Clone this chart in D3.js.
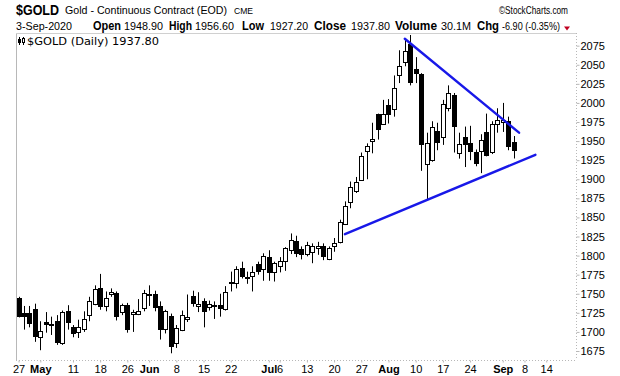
<!DOCTYPE html>
<html>
<head>
<meta charset="utf-8">
<script src="https://cdn.jsdelivr.net/npm/d3@7"></script>
<style>
  body { margin: 0; background: #fff; }
  svg { display: block; }
  text { font-family: "Liberation Sans", Arial, sans-serif; fill: #000; }
</style>
</head>
<body>
<div id="chart"></div>
<script>
// trading days shown (holidays skipped)
const dates = [
  "2020-04-27","2020-04-28","2020-04-29","2020-04-30","2020-05-01",
  "2020-05-04","2020-05-05","2020-05-06","2020-05-07","2020-05-08",
  "2020-05-11","2020-05-12","2020-05-13","2020-05-14","2020-05-15",
  "2020-05-18","2020-05-19","2020-05-20","2020-05-21","2020-05-22",
  "2020-05-26","2020-05-27","2020-05-28","2020-05-29",
  "2020-06-01","2020-06-02","2020-06-03","2020-06-04","2020-06-05",
  "2020-06-08","2020-06-09","2020-06-10","2020-06-11","2020-06-12",
  "2020-06-15","2020-06-16","2020-06-17","2020-06-18","2020-06-19",
  "2020-06-22","2020-06-23","2020-06-24","2020-06-25","2020-06-26",
  "2020-06-29","2020-06-30","2020-07-01","2020-07-02",
  "2020-07-06","2020-07-07","2020-07-08","2020-07-09","2020-07-10",
  "2020-07-13","2020-07-14","2020-07-15","2020-07-16","2020-07-17",
  "2020-07-20","2020-07-21","2020-07-22","2020-07-23","2020-07-24",
  "2020-07-27","2020-07-28","2020-07-29","2020-07-30","2020-07-31",
  "2020-08-03","2020-08-04","2020-08-05","2020-08-06","2020-08-07",
  "2020-08-10","2020-08-11","2020-08-12","2020-08-13","2020-08-14",
  "2020-08-17","2020-08-18","2020-08-19","2020-08-20","2020-08-21",
  "2020-08-24","2020-08-25","2020-08-26","2020-08-27","2020-08-28",
  "2020-08-31","2020-09-01","2020-09-02","2020-09-03"
];
// empty days to the right of the last candle
const futureDates = [
  "2020-09-04","2020-09-08","2020-09-09","2020-09-10","2020-09-11",
  "2020-09-14","2020-09-15","2020-09-16","2020-09-17","2020-09-18","2020-09-21"
];

const opens = [
  1745,1725,1725,1730,1693, 1713,1711,1714,1685,1727, 1706,1699,1704,1723,1737,
  1757,1734,1749,1751,1726, 1735,1723,1724,1732, 1749,1750,1734,1703,1721,
  1686,1703,1717,1747,1734, 1740,1732,1734.5,1735,1730, 1765,1764,1784,1771,1774,
  1789,1783,1798,1778, 1786,1793,1807,1819,1808, 1802,1804,1810,1812,1795,
  1812,1818,1842,1871,1884, 1900,1936,1950,1985,1972, 1997,1993,2036,2054,2077,
  2044,2038,1921,1926,1963, 1955,1993,2010,1934,1955, 1948,1936,1937,1962,1936,
  1973,1975,1976,1948.9
];
const highs = [
  1746,1734,1734,1737,1714, 1726,1720,1722,1728,1735, 1709,1716,1727,1746,1761,
  1776,1753,1757,1753,1737, 1738,1729,1743,1755, 1761,1754,1740,1729,1724,
  1709,1728,1749,1754,1752, 1744,1741,1740,1750,1760, 1779,1786,1792,1779,1786,
  1792,1803,1807,1792, 1798,1811,1829,1826,1812, 1818,1816,1818,1816,1812,
  1823,1847,1871,1897,1903, 1935,1947,1974,1986,2004, 2005,2036,2069,2083,2089,
  2060,2039,1961,1976,1974, 2004,2023,2013,1961,1969, 1970,1939,1959,1986,1976,
  1993,2000,1982,1956.6
];
const lows = [
  1719,1703,1706,1687,1676, 1699,1696,1683,1683,1703, 1693,1692,1700,1714,1735,
  1729,1727,1746,1715,1722, 1699,1700,1722,1727, 1734,1727,1690,1698,1672,
  1679,1701,1713,1733,1726, 1706,1728,1717,1720,1728, 1753,1757,1770,1763,1753,
  1775,1767,1767,1766, 1778,1780,1802,1798,1795, 1799,1790,1801,1794,1794,
  1805,1816,1840,1862,1882, 1898,1900,1934,1952,1972, 1973,1982,2026,2048,2023,
  2026,1911,1874,1923,1938, 1945,1989,1935,1927,1916, 1925,1917,1908,1930,1933,
  1961,1962,1938,1927.2
];
const closes = [
  1722,1721,1712,1694,1701, 1711,1710,1687,1726,1713, 1698,1706,1717,1741,1756,
  1733,1745,1752,1721,1735, 1704,1726,1728,1751, 1750,1733,1704,1727,1682,
  1705,1722,1720,1738,1736, 1727,1736,1735,1731,1752, 1766,1782,1774,1772,1779,
  1780,1800,1779,1790, 1793,1810,1820,1803,1801, 1814,1812,1813,1799,1810,
  1816,1844,1865,1890,1896, 1931,1943,1953,1965,1985, 1985,2020,2048,2068,2027,
  2039,1946,1948,1969,1948, 1998,2013,1969,1946,1946, 1938,1922,1952,1932,1973,
  1978,1978,1943,1937.8
];

// triangle trendlines: [date, price]
const upperLine = [["2020-08-06", 2084], ["2020-09-04", 1961]];
const lowerLine = [["2020-07-22", 1828], ["2020-09-10", 1932]];

const yTicks = [1675,1700,1725,1750,1775,1800,1825,1850,1875,1900,1925,1950,1975,2000,2025,2050,2075];
const xTickDates  = ["2020-04-27","2020-05-01","2020-05-11","2020-05-18","2020-05-26","2020-06-01","2020-06-08",
  "2020-06-15","2020-06-22","2020-07-01","2020-07-06","2020-07-13","2020-07-20","2020-07-27","2020-08-03",
  "2020-08-10","2020-08-17","2020-08-24","2020-09-01","2020-09-08","2020-09-14"];
const xTickLabels = ["27","May","11","18","26","Jun","8","15","22","Jul","6","13","20","27","Aug",
  "10","17","24","Sep","8","14"];
const monthLabels = ["May","Jun","Jul","Aug","Sep"];

const volume = "30.1M", chg = "-6.90 (-0.35%)";

const W = 620, H = 376;
const plot = { left: 16, right: 576, top: 33, bottom: 360 };

const svg = d3.select("#chart").append("svg")
  .attr("width", W).attr("height", H);

const x = d3.scalePoint()
  .domain(dates.concat(futureDates))
  .range([plot.left, plot.right])
  .padding(0.47);

const y = d3.scaleLinear()
  .domain([1663.2, 2091.6])
  .range([plot.bottom, plot.top]);

const candles = dates.map((d, i) => ({ d, o: opens[i], h: highs[i], l: lows[i], c: closes[i] }));

// frame
svg.append("line").attr("x1", plot.left + 0.5).attr("x2", plot.left + 0.5)
  .attr("y1", plot.top).attr("y2", plot.bottom).attr("stroke", "#b8b8b8");
svg.append("line").attr("x1", plot.left).attr("x2", plot.right)
  .attr("y1", plot.top + 0.5).attr("y2", plot.top + 0.5).attr("stroke", "#d0d0d0");
svg.append("line").attr("x1", plot.right + 0.5).attr("x2", plot.right + 0.5)
  .attr("y1", plot.top).attr("y2", plot.bottom).attr("stroke", "#b8b8b8")
  .attr("stroke-dasharray", "1,2");
svg.append("line").attr("x1", plot.left).attr("x2", plot.right)
  .attr("y1", plot.bottom + 0.5).attr("y2", plot.bottom + 0.5).attr("stroke", "#b8b8b8")
  .attr("stroke-dasharray", "1,2");

// y axis on the right
const yAxis = svg.append("g")
  .attr("transform", `translate(${plot.right + 0.5},0)`)
  .call(d3.axisRight(y).tickValues(yTicks).tickSize(3).tickPadding(1).tickFormat(d3.format("d")));
yAxis.select(".domain").remove();
yAxis.selectAll(".tick line").attr("stroke", "#b8b8b8");
yAxis.selectAll(".tick text")
  .style("font-family", "Liberation Sans, Arial, sans-serif")
  .style("font-size", "11px").attr("fill", "#000");

// x axis labels
const xAxis = svg.append("g")
  .attr("transform", `translate(0,${plot.bottom + 0.5})`)
  .call(d3.axisBottom(x).tickValues(xTickDates).tickSize(2).tickPadding(3)
    .tickFormat((d, i) => xTickLabels[i]));
xAxis.select(".domain").remove();
xAxis.selectAll(".tick line").attr("stroke", "#b8b8b8");
xAxis.selectAll(".tick text")
  .style("font-family", "Liberation Sans, Arial, sans-serif")
  .style("font-size", "11px").attr("fill", "#000")
  .style("font-weight", (d, i) => monthLabels.includes(xTickLabels[i]) ? "bold" : "normal");

// candles
const g = svg.append("g");
const cx = d => Math.round(x(d.d));

g.selectAll(".wick").data(candles).enter().append("line")
  .attr("x1", d => cx(d) + 0.5).attr("x2", d => cx(d) + 0.5)
  .attr("y1", d => y(d.h)).attr("y2", d => y(d.l))
  .attr("stroke", "#000").attr("stroke-width", 1);

g.selectAll(".body").data(candles).enter().append("rect")
  .attr("x", d => cx(d) - 1.5)
  .attr("width", 4)
  .attr("y", d => Math.round(y(Math.max(d.o, d.c))) + 0.5)
  .attr("height", d => Math.max(1, Math.round(Math.abs(y(d.o) - y(d.c)))))
  .attr("fill", d => d.c < d.o ? "#000" : "#fff")
  .attr("stroke", "#000").attr("stroke-width", 1);

// trendlines
const tl = d3.line().x(p => x(p[0])).y(p => y(p[1]));
[upperLine, lowerLine].forEach(pts => {
  svg.append("path").attr("d", tl(pts))
    .attr("fill", "none").attr("stroke", "#1818e8").attr("stroke-width", 2.4)
    .attr("stroke-linecap", "round");
});

// legend inside plot
const lg = svg.append("g");
lg.append("line").attr("x1", 19.5).attr("x2", 19.5).attr("y1", 37).attr("y2", 45).attr("stroke", "#000");
lg.append("rect").attr("x", 18).attr("y", 39).attr("width", 3).attr("height", 4).attr("fill", "#000");
lg.append("line").attr("x1", 23.5).attr("x2", 23.5).attr("y1", 37).attr("y2", 45).attr("stroke", "#000");
lg.append("rect").attr("x", 22.5).attr("y", 38.5).attr("width", 2).attr("height", 4).attr("fill", "#fff").attr("stroke", "#000");
lg.append("text").attr("x", 27).attr("y", 45)
  .style("font-family", "DejaVu Sans, sans-serif").style("font-size", "11px")
  .attr("textLength", 132).attr("lengthAdjust", "spacingAndGlyphs")
  .text("$GOLD (Daily) " + closes[closes.length - 1].toFixed(2));

// header
const last = candles[candles.length - 1];
function txt(str, xx, yy, size, weight, len, fill) {
  const t = svg.append("text").attr("x", xx).attr("y", yy)
    .style("font-size", size + "px").style("font-weight", weight || "normal")
    .attr("fill", fill || "#000").text(str);
  if (len) t.attr("textLength", len).attr("lengthAdjust", "spacingAndGlyphs");
  return t;
}
txt("$GOLD", 16, 15, 15, "bold", 43);
txt("Gold - Continuous Contract (EOD)", 65, 14, 10.6, "normal", 162);
txt("CME", 234, 14, 9, "normal", 19);
txt("\u00A9StockCharts.com", 499, 14, 11, "normal", 69, "#333");

txt("3-Sep-2020", 16, 30, 11, "normal", 56);
txt("Open", 93, 30, 12, "bold", 28);
txt(last.o.toFixed(2), 124, 30, 11, "normal", 39);
txt("High", 169, 30, 12, "bold", 23);
txt(last.h.toFixed(2), 195, 30, 11, "normal", 39);
txt("Low", 242, 30, 12, "bold", 22);
txt(last.l.toFixed(2), 270, 30, 11, "normal", 38);
txt("Close", 314, 30, 12, "bold", 32);
txt(last.c.toFixed(2), 351, 30, 11, "normal", 39);
txt("Volume", 395, 30, 12, "bold", 42);
txt(volume, 441, 30, 11, "normal", 30);
txt("Chg", 477, 30, 12, "bold", 22);
txt(chg, 502, 30, 11, "normal", 58);
svg.append("path").attr("d", "M564,26.5 L570,26.5 L567,30.5 Z").attr("fill", "#c00020");
</script>
</body>
</html>
